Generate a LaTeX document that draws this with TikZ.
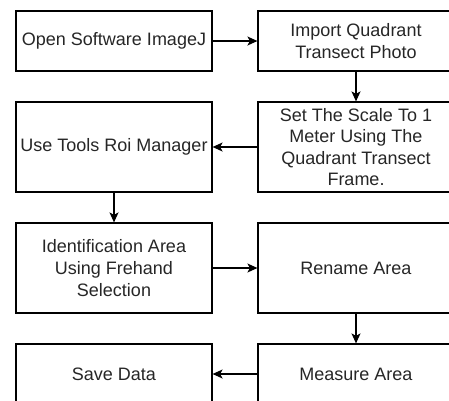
\documentclass[tikz,border=0pt]{standalone}
\usepackage{fontspec}
\setmainfont{Liberation Sans}
\usetikzlibrary{arrows.meta}
\tikzset{
  stepbox/.style={draw=black, line width=1.2pt, rectangle, minimum width=196pt,
    inner sep=0pt, align=center, text=black!85,
    font=\fontsize{18pt}{21.6pt}\selectfont},
  flow/.style={draw=black, line width=1.2pt,
    -{Stealth[length=10pt,width=9pt,inset=2.5pt]}}
}
\begin{document}
\begin{tikzpicture}[x=1pt,y=-1pt]
\useasboundingbox (0,0) rectangle (449,400);
% left column
\node[stepbox, minimum height=60pt] (open) at (114,41) {Open Software ImageJ};
\node[stepbox, minimum height=90pt] (roi) at (114,147) {Use Tools Roi Manager};
\node[stepbox, minimum height=90pt] (ident) at (114,268) {Identification Area\\Using Frehand\\Selection};
\node[stepbox, minimum height=60pt] (save) at (114,374) {Save Data};
% right column
\node[stepbox, minimum height=60pt] (import) at (356,41) {Import Quadrant\\Transect Photo};
\node[stepbox, minimum height=90pt] (scale) at (356,147) {Set The Scale To 1\\Meter Using The\\Quadrant Transect\\Frame.};
\node[stepbox, minimum height=90pt] (rename) at (356,268) {Rename Area};
\node[stepbox, minimum height=60pt] (measure) at (356,374) {Measure Area};
% connectors
\draw[flow] (open.east) -- (import.west);
\draw[flow] (import.south) -- (scale.north);
\draw[flow] (scale.west) -- (roi.east);
\draw[flow] (roi.south) -- (ident.north);
\draw[flow] (ident.east) -- (rename.west);
\draw[flow] (rename.south) -- (measure.north);
\draw[flow] (measure.west) -- (save.east);
\end{tikzpicture}
\end{document}
